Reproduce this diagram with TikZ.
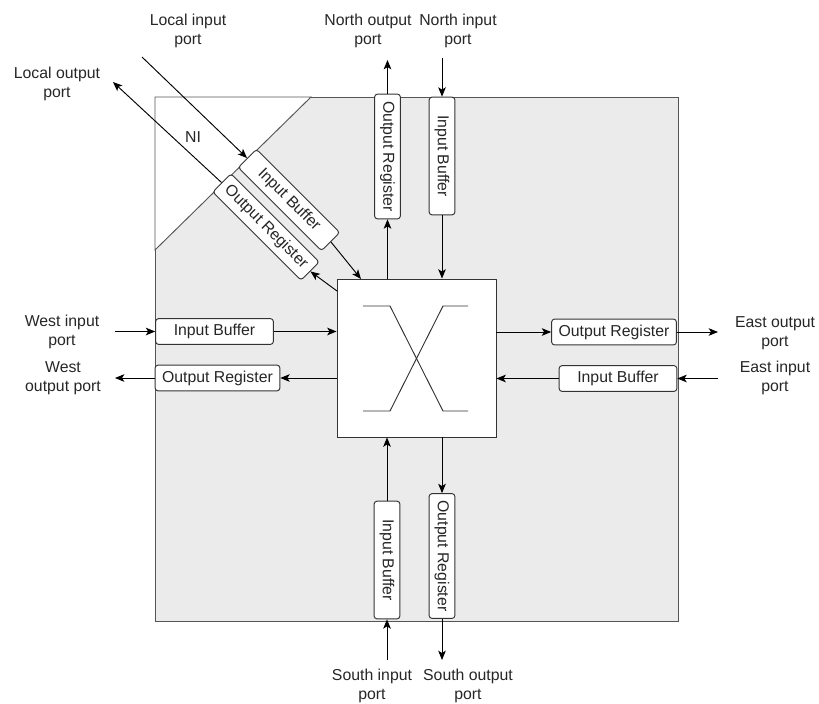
\documentclass[tikz,border=0pt]{standalone}
\usepackage{fontspec}
\setmainfont{Liberation Sans}
\usetikzlibrary{arrows.meta}
\definecolor{routerfill}{HTML}{EBEBEB}
\definecolor{edgegray}{HTML}{555555}
\definecolor{boxedge}{HTML}{333333}
\definecolor{labeltext}{HTML}{262626}
\begin{document}
\begin{tikzpicture}[x=0.03cm,y=-0.03cm,
  every node/.style={font=\fontsize{13.5pt}{16pt}\selectfont,text=labeltext},
  arr/.style={draw=black,line width=0.8pt,-{Stealth[length=8pt,width=6.5pt,inset=2pt]}},
  plain/.style={draw=black,line width=0.8pt},
  regbox/.style={draw=boxedge,fill=white,line width=0.8pt,rounded corners=2.5pt,
    inner sep=0pt,minimum height=22pt,anchor=center},
  ibox/.style={regbox,minimum width=100.5pt},
  obox/.style={regbox,minimum width=106.5pt},
  portlabel/.style={align=center,inner sep=0pt}]
\useasboundingbox (0,0) rectangle (819,703);

% router body and network interface corner
\draw[edgegray,fill=routerfill,line width=0.8pt] (155,97) rectangle (678,621);
\draw[edgegray,fill=white,line width=0.8pt] (155,97) -- (311,97) -- (155,250) -- cycle;
\node[text=labeltext] (ni) at (193,137) {NI};

% crossbar switch
\node[draw=boxedge,fill=white,line width=0.8pt,minimum width=135.7pt,minimum height=134.8pt,inner sep=0pt] (sw) at (416.5,358) {};
\draw[boxedge,line width=0.8pt] (363,306) -- (390,306) -- (443,411) -- (468,411);
\draw[boxedge,line width=0.8pt] (363,411) -- (390,411) -- (443,306) -- (468,306);

% buffers and registers
\node[ibox] (wib) at (214.5,331.5) {Input Buffer};
\node[obox] (wor) at (217.5,378) {Output Register};
\node[obox] (eor) at (614,332) {Output Register};
\node[ibox] (eib) at (618,378.5) {Input Buffer};
\node[obox,rotate=-90] (nor) at (387.5,156.5) {Output Register};
\node[ibox,rotate=-90] (nib) at (442,156) {Input Buffer};
\node[ibox,rotate=-90] (sib) at (387,560) {Input Buffer};
\node[obox,rotate=-90] (sor) at (442,556) {Output Register};
\node[ibox,rotate=-45] (dib) at (289,200) {Input Buffer};
\node[obox,rotate=-45] (dor) at (266,227) {Output Register};

% free ends of the port connectors
\coordinate (nout) at (387.5,60);
\coordinate (nin) at (442,58);
\coordinate (win) at (115,331.5);
\coordinate (wout) at (115,378);
\coordinate (eout) at (718,332);
\coordinate (ein) at (718,378.5);
\coordinate (sin) at (387,660);
\coordinate (sout) at (442,660);
\coordinate (lin) at (142,57);
\coordinate (lout) at (113,82);
\coordinate (linend) at (361,279);
\coordinate (loutstart) at (337,291);

% north
\draw[arr] (sw.north -| nor.east) -- (nor.east);
\draw[arr] (nor.west) -- (nout);
\draw[arr] (nin) -- (nib.west);
\draw[arr] (nib.east) -- (sw.north -| nib.east);
% west
\draw[arr] (win) -- (wib.west);
\draw[arr] (wib.east) -- (sw.west |- wib.east);
\draw[arr] (sw.west |- wor.east) -- (wor.east);
\draw[arr] (wor.west) -- (wout);
% east
\draw[arr] (sw.east |- eor.west) -- (eor.west);
\draw[arr] (eor.east) -- (eout);
\draw[arr] (ein) -- (eib.east);
\draw[arr] (eib.west) -- (sw.east |- eib.west);
% south
\draw[arr] (sin) -- (sib.east);
\draw[arr] (sib.west) -- (sw.south -| sib.west);
\draw[arr] (sw.south -| sor.west) -- (sor.west);
\draw[arr] (sor.east) -- (sout);
% local
\draw[arr] (lin) -- (dib.west);
\draw[arr] (dib.east) -- (linend);
\draw[arr] (loutstart) -- (dor.east);
\draw[arr] (dor.west) -- (lout);

% port labels
\node[portlabel] (lblli) at (188,31) {Local input\\port};
\node[portlabel] (lbllo) at (57,84) {Local output\\port};
\node[portlabel] (lblno) at (368,31) {North output\\port};
\node[portlabel] (lblni) at (458,31) {North input\\port};
\node[portlabel] (lblwi) at (62,332) {West input\\port};
\node[portlabel] (lblwo) at (63,378) {West\\output port};
\node[portlabel] (lbleo) at (775,333) {East output\\port};
\node[portlabel] (lblei) at (775,378) {East input\\port};
\node[portlabel] (lblsi) at (372,686) {South input\\port};
\node[portlabel] (lblso) at (468,686) {South output\\port};
\end{tikzpicture}
\end{document}
